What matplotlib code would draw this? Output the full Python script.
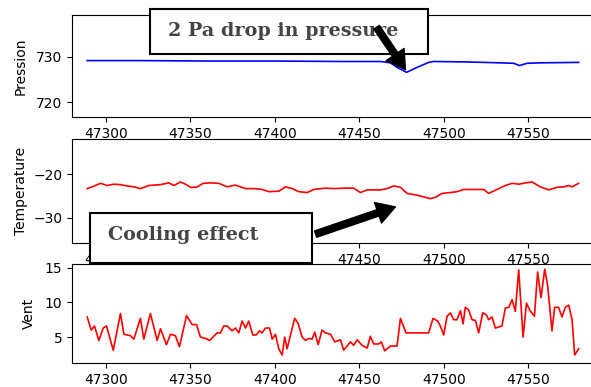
import matplotlib
matplotlib.use("Agg")
import matplotlib.pyplot as plt
from matplotlib.patches import Rectangle, FancyArrowPatch

# Pressure (blue line)
p_time = [47289, 47320, 47360, 47400, 47440, 47462.6, 47468.5, 47472.4, 47478,
          47484.3, 47491.1, 47494.1, 47513.8, 47533.5, 47541.4, 47544.9, 47549.3,
          47557.2, 47579.9]
pression = [729.2, 729.2, 729.1, 729.1, 729.0, 729.0, 728.7, 727.7, 726.6,
            727.7, 728.8, 729.0, 728.9, 728.7, 728.6, 728.1, 728.6,
            728.7, 728.8]

# Temperature (red line)
t_time = [47289, 47291.9, 47296.9, 47300.8, 47304.7, 47308.7, 47312.6, 47316.6,
          47320.5, 47325.4, 47332.4, 47337.3, 47340.3, 47344.2, 47347.2, 47350.1,
          47353.7, 47357.6, 47362, 47366.9, 47371.8, 47376.7, 47382.7, 47387.6,
          47392.6, 47396.5, 47402.4, 47406.3, 47410.3, 47414.2, 47419.2, 47423.1,
          47430, 47435, 47440.8, 47446.7, 47450.7, 47454.7, 47462.6, 47466.5,
          47470.5, 47474.4, 47478.3, 47484.3, 47492.1, 47495.1, 47499, 47504,
          47507.9, 47511.8, 47519.8, 47523.7, 47526.6, 47531.6, 47536.5, 47540.5,
          47544.4, 47548.4, 47552.3, 47557.2, 47562.2, 47567.1, 47571.1, 47574,
          47576, 47579.9]
temperature = [-23.3, -22.9, -22.1, -22.6, -22.3, -22.4, -22.7, -22.9,
               -23.3, -22.6, -22.4, -22.0, -22.6, -21.8, -22.3, -23.0,
               -23.0, -22.1, -22.0, -22.1, -22.9, -22.5, -23.3, -23.3,
               -23.5, -24.0, -23.9, -22.9, -23.3, -24.0, -24.2, -23.5,
               -23.2, -23.3, -23.2, -23.2, -24.2, -23.6, -23.6, -23.3,
               -22.7, -23.0, -24.4, -24.8, -25.6, -25.3, -24.4, -24.2,
               -24.0, -23.5, -23.5, -23.5, -24.4, -23.5, -22.6, -22.1,
               -22.3, -22.0, -21.8, -22.9, -23.6, -23.0, -22.9, -22.6,
               -22.9, -22.1]

# Wind (red line)
v_time = [47289, 47291.4, 47293.3, 47295.9, 47298.5, 47300.4, 47304.4, 47308.7,
          47310.7, 47314.6, 47316.6, 47320.5, 47322.5, 47326.4, 47330.4, 47332.4,
          47335.9, 47338.3, 47341.2, 47343.6, 47347.8, 47351.1, 47353.7, 47356,
          47359, 47361.5, 47365.9, 47367.9, 47369.8, 47371.8, 47374.8, 47376.7,
          47378.7, 47380.7, 47382.7, 47384.6, 47387, 47389, 47391, 47392.5,
          47394.5, 47396.9, 47398.5, 47400.4, 47402.4, 47404.4, 47405.9, 47407.3,
          47411.8, 47413.8, 47416.2, 47418.2, 47420.1, 47422.1, 47423.7, 47425.7,
          47428, 47430, 47433, 47435.5, 47438.9, 47440.8, 47444.8, 47446.7,
          47448.8, 47451.7, 47454.7, 47456.6, 47458.6, 47461.5, 47463.1, 47465.1,
          47468.5, 47472.4, 47474.4, 47477.7, 47483.3, 47491.1, 47493.7, 47496.5,
          47498, 47500, 47502, 47504, 47505.9, 47507.9, 47509.9, 47511.5,
          47512.8, 47514.8, 47516.8, 47518.8, 47520.7, 47523.1, 47525.3, 47526.6,
          47528.6, 47530.6, 47534.5, 47536.5, 47538.5, 47540.5, 47542.4, 47544.4,
          47547, 47549, 47550.9, 47553.7, 47555.6, 47557.6, 47559.8, 47561.5,
          47564.1, 47565.7, 47568, 47570, 47572, 47574, 47576, 47577.5,
          47579.9]
vent = [7.9, 6.0, 6.6, 4.5, 6.3, 6.6, 3.1, 8.4,
        5.4, 5.2, 4.7, 7.7, 4.7, 8.4, 4.5, 6.2,
        3.9, 5.4, 5.2, 3.6, 8.1, 6.8, 6.8, 5.0,
        4.8, 4.5, 5.6, 5.6, 6.6, 6.6, 5.9, 6.3,
        5.6, 7.3, 6.3, 7.3, 5.3, 5.3, 5.9, 5.6,
        6.3, 6.3, 4.7, 5.4, 3.3, 2.4, 5.0, 3.3,
        7.7, 7.0, 5.0, 4.5, 4.8, 4.7, 5.7, 3.9,
        6.0, 5.6, 5.4, 4.3, 4.6, 3.1, 4.3, 3.8,
        4.6, 3.8, 3.4, 5.1, 4.0, 4.0, 4.3, 3.0,
        3.7, 3.7, 7.7, 5.6, 5.6, 5.6, 7.7, 7.3,
        6.6, 5.3, 8.0, 8.5, 7.5, 7.5, 8.8, 6.9,
        9.3, 8.9, 7.5, 7.4, 5.6, 8.5, 8.2, 7.5,
        7.9, 6.3, 6.6, 9.2, 9.3, 10.4, 8.7, 14.7,
        5.0, 9.9, 8.9, 8.0, 14.4, 10.7, 14.8, 12.5,
        5.9, 9.3, 9.3, 7.9, 9.3, 9.6, 7.5, 2.4,
        3.3]

W, H = 591, 387


def px_box(x0, y0, x1, y1):
    # pixel box (top-left origin) -> figure fraction [left, bottom, width, height]
    return [x0 / W, 1 - y1 / H, (x1 - x0) / W, (y1 - y0) / H]


def px(x, y):
    return (x / W, 1 - y / H)


fig = plt.figure(figsize=(W / 100, H / 100), dpi=100)

ax1 = fig.add_axes(px_box(72, 15, 602.5, 117))
ax2 = fig.add_axes(px_box(72, 139, 602.5, 243))
ax3 = fig.add_axes(px_box(72, 264, 602.5, 363))

ax1.plot(p_time, pression, color="blue", lw=1.2)
ax2.plot(t_time, temperature, color="red", lw=1.2)
ax3.plot(v_time, vent, color="red", lw=1.2)

for ax in (ax1, ax2, ax3):
    ax.set_xlim(47280, 47594)
    ax.set_xticks([47300, 47350, 47400, 47450, 47500, 47550])

ax1.set_ylim(716.7, 739.3)
ax2.set_ylim(-35.7, -12.0)
ax3.set_ylim(1.25, 15.55)

ax1.set_ylabel("Pression", labelpad=6)
ax2.set_ylabel("Temperature", labelpad=4)
ax3.set_ylabel("Vent", labelpad=6)

# annotation boxes and arrows
fig.add_artist(Rectangle(px(150, 54), 278 / W, 45 / H, transform=fig.transFigure,
                         facecolor="white", edgecolor="black", lw=1.5, zorder=5))
fig.text(*px(168, 31), "2 Pa drop in pressure", fontsize=13.8, fontweight="bold",
         family="DejaVu Serif", color="#444444", va="center", ha="left", zorder=6)

fig.add_artist(Rectangle(px(90, 263), 222 / W, 50 / H, transform=fig.transFigure,
                         facecolor="white", edgecolor="black", lw=1.5, zorder=5))
fig.text(*px(108, 235), "Cooling effect", fontsize=13.8, fontweight="bold",
         family="DejaVu Serif", color="#444444", va="center", ha="left", zorder=6)

arrow_style = "simple,head_width=1.3,head_length=1.1,tail_width=0.4"
fig.add_artist(FancyArrowPatch(px(375, 25), px(407, 72), transform=fig.transFigure,
                               arrowstyle=arrow_style, mutation_scale=12,
                               color="black", zorder=7))
fig.add_artist(FancyArrowPatch(px(313, 235), px(398, 206), transform=fig.transFigure,
                               arrowstyle=arrow_style, mutation_scale=12,
                               color="black", zorder=7))

fig.savefig("out.png", dpi=100)
